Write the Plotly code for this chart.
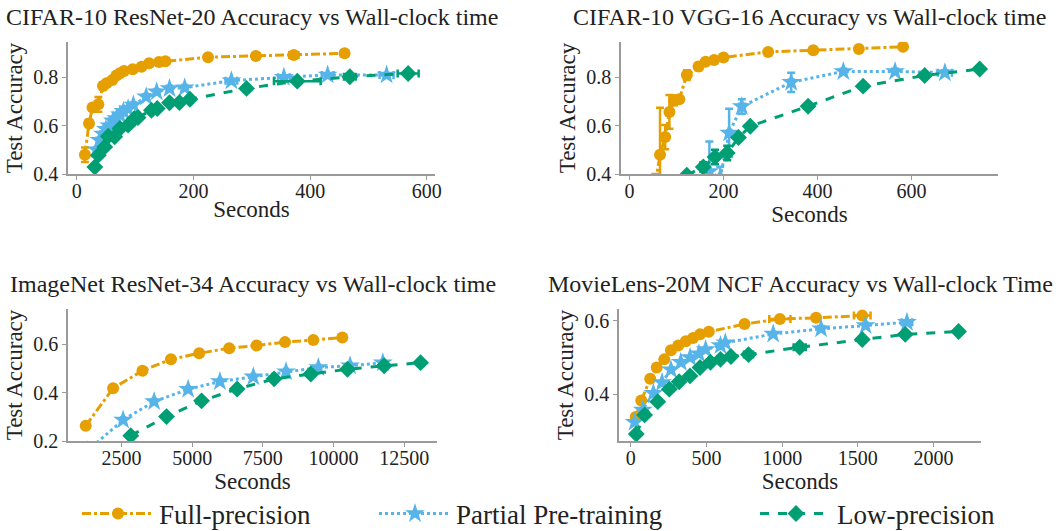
import plotly.graph_objects as go

# ---------------- data ----------------
# Panel 1: CIFAR-10 ResNet-20
r20_full_x = [14, 21, 27, 37, 45, 51, 61, 68, 74, 81, 96, 111, 124, 141, 152, 225, 307, 372, 459]
r20_full_y = [0.480, 0.609, 0.675, 0.688, 0.764, 0.775, 0.789, 0.807, 0.817, 0.826, 0.833, 0.844, 0.858, 0.863, 0.866, 0.883, 0.888, 0.892, 0.899]
r20_full_ey = [0.03, 0.015, 0.01, 0.03, 0.015, 0.01, 0.01, 0.01, 0.005, 0.005, 0.005, 0.005, 0.005, 0.005, 0.005, 0.003, 0.003, 0.003, 0.003]
r20_full_ex = [2, 3, 2, 3, 2, 2, 2, 2, 2, 2, 2, 2, 2, 2, 2, 3, 6, 8, 6]

r20_part_x = [34, 39, 45, 50, 56, 62, 68, 74, 80, 88, 97, 119, 137, 159, 185, 265, 355, 430, 531]
r20_part_y = [0.500, 0.540, 0.565, 0.585, 0.600, 0.620, 0.630, 0.645, 0.660, 0.670, 0.685, 0.720, 0.740, 0.754, 0.757, 0.786, 0.800, 0.810, 0.810]
r20_part_ey = [0.01, 0.01, 0.01, 0.01, 0.01, 0.01, 0.01, 0.01, 0.01, 0.01, 0.01, 0.01, 0.01, 0.01, 0.005, 0.005, 0.005, 0.005, 0.005]
r20_part_ex = [2, 2, 2, 2, 2, 2, 2, 2, 2, 2, 3, 3, 3, 4, 4, 10, 10, 10, 12]

r20_low_x = [31, 37, 48, 54, 65, 74, 88, 99, 105, 128, 138, 159, 176, 194, 291, 378, 468, 568]
r20_low_y = [0.429, 0.478, 0.512, 0.556, 0.554, 0.588, 0.602, 0.630, 0.634, 0.664, 0.671, 0.695, 0.696, 0.709, 0.754, 0.784, 0.802, 0.816]
r20_low_ey = [0.01, 0.01, 0.01, 0.01, 0.01, 0.01, 0.008, 0.008, 0.008, 0.006, 0.006, 0.006, 0.006, 0.006, 0.005, 0.005, 0.005, 0.005]
r20_low_ex = [2, 2, 2, 2, 2, 2, 3, 3, 3, 3, 3, 3, 3, 4, 5, 40, 10, 18]

# Panel 2: CIFAR-10 VGG-16
vgg_full_x = [55, 65, 76, 85, 95, 106, 122, 147, 162, 180, 200, 295, 391, 488, 582]
vgg_full_y = [0.360, 0.480, 0.553, 0.657, 0.705, 0.710, 0.810, 0.845, 0.865, 0.872, 0.883, 0.906, 0.913, 0.918, 0.927]
vgg_full_ey = [0.04, 0.195, 0.05, 0.07, 0.02, 0.01, 0.02, 0.015, 0.01, 0.01, 0.005, 0.005, 0.005, 0.005, 0.005]
vgg_full_ex = [13, 2, 3, 3, 3, 3, 4, 4, 4, 4, 4, 4, 4, 4, 4]

vgg_part_x = [170, 193, 212, 239, 344, 455, 565, 671]
vgg_part_y = [0.410, 0.385, 0.570, 0.680, 0.780, 0.825, 0.825, 0.820]
vgg_part_ey = [0.125, 0.045, 0.10, 0.03, 0.04, 0.01, 0.01, 0.01]
vgg_part_ex = [3, 3, 4, 6, 5, 5, 5, 15]

vgg_low_x = [122, 157, 182, 208, 232, 257, 380, 497, 628, 745]
vgg_low_y = [0.395, 0.429, 0.470, 0.487, 0.551, 0.598, 0.681, 0.764, 0.808, 0.835]
vgg_low_ey = [0.005, 0.02, 0.03, 0.03, 0.01, 0.01, 0.005, 0.005, 0.005, 0.005]
vgg_low_ex = [3, 4, 4, 4, 4, 4, 4, 4, 4, 4]

# Panel 3: ImageNet ResNet-34
in_full_x = [1236, 2203, 3243, 4250, 5248, 6310, 7280, 8283, 9285, 10310]
in_full_y = [0.263, 0.418, 0.491, 0.538, 0.563, 0.584, 0.595, 0.609, 0.618, 0.628]
in_full_ex = [80, 80, 60, 60, 60, 60, 60, 60, 60, 60]

in_part_x = [1300, 2557, 3654, 4858, 5981, 7162, 8319, 9462, 10584, 11742]
in_part_y = [0.160, 0.287, 0.363, 0.414, 0.446, 0.466, 0.487, 0.504, 0.511, 0.524]
in_part_ex = [60, 60, 60, 60, 60, 60, 60, 60, 60, 60]

in_low_x = [2829, 4093, 5332, 6590, 7897, 9196, 10492, 11788, 13077]
in_low_y = [0.222, 0.301, 0.366, 0.415, 0.457, 0.477, 0.497, 0.511, 0.524]
in_low_ex = [60, 60, 60, 60, 60, 60, 60, 60, 60]

# Panel 4: MovieLens-20M NCF
ml_full_x = [33, 70, 129, 172, 222, 266, 314, 364, 412, 458, 516, 752, 985, 1224, 1529]
ml_full_y = [0.338, 0.383, 0.442, 0.473, 0.495, 0.520, 0.533, 0.544, 0.553, 0.563, 0.570, 0.591, 0.605, 0.608, 0.614]
ml_full_ex = [5, 5, 5, 5, 5, 5, 5, 5, 5, 5, 5, 8, 70, 10, 55]

ml_part_x = [26, 80, 150, 207, 266, 331, 392, 451, 495, 593, 625, 941, 1257, 1551, 1824]
ml_part_y = [0.324, 0.357, 0.403, 0.432, 0.467, 0.487, 0.500, 0.510, 0.522, 0.533, 0.540, 0.564, 0.578, 0.587, 0.596]
ml_part_ex = [5, 5, 5, 5, 5, 5, 5, 5, 5, 5, 5, 8, 20, 15, 35]

ml_low_x = [37, 92, 179, 255, 320, 392, 458, 527, 593, 662, 778, 1116, 1529, 1813, 2165]
ml_low_y = [0.292, 0.344, 0.380, 0.414, 0.434, 0.450, 0.473, 0.487, 0.495, 0.503, 0.508, 0.528, 0.549, 0.563, 0.571]
ml_low_ex = [5, 5, 5, 5, 5, 5, 5, 5, 5, 5, 30, 40, 10, 15, 10]

titles = ["CIFAR-10 ResNet-20 Accuracy vs Wall-clock time",
          "CIFAR-10 VGG-16 Accuracy vs Wall-clock time",
          "ImageNet ResNet-34 Accuracy vs Wall-clock time",
          "MovieLens-20M NCF Accuracy vs Wall-clock Time"]
series_names = ["Full-precision", "Partial Pre-training", "Low-precision"]

# ---------------- style ----------------
FONT = "Liberation Serif"
C_FULL, C_PART, C_LOW = "#E69F00", "#56B4E9", "#009E73"
styles = [
    dict(color=C_FULL, dash="dashdot", symbol="circle", size=12),
    dict(color=C_PART, dash="dot", symbol="star", size=15),
    dict(color=C_LOW, dash="dash", symbol="diamond", size=13),
]
legend_ids = ["legend", "legend2", "legend3"]

panels = [
    [(r20_full_x, r20_full_y, r20_full_ex, r20_full_ey),
     (r20_part_x, r20_part_y, r20_part_ex, r20_part_ey),
     (r20_low_x, r20_low_y, r20_low_ex, r20_low_ey)],
    [(vgg_full_x, vgg_full_y, vgg_full_ex, vgg_full_ey),
     (vgg_part_x, vgg_part_y, vgg_part_ex, vgg_part_ey),
     (vgg_low_x, vgg_low_y, vgg_low_ex, vgg_low_ey)],
    [(in_full_x, in_full_y, in_full_ex, None),
     (in_part_x, in_part_y, in_part_ex, None),
     (in_low_x, in_low_y, in_low_ex, None)],
    [(ml_full_x, ml_full_y, ml_full_ex, None),
     (ml_part_x, ml_part_y, ml_part_ex, None),
     (ml_low_x, ml_low_y, ml_low_ex, None)],
]

# the page's body margin is removed below, so the figure fills the window
W, H = 1058, 531
# axes boxes in page pixels: (left, right, top, bottom)
boxes = [(68, 435, 42, 174), (621, 998, 42, 174), (68, 437, 309, 441), (619, 981, 309, 441)]
xranges = [[-15, 614], [-18, 784], [609, 13658], [-77, 2313]]
yranges = [[0.4, 0.946], [0.4, 0.947], [0.2, 0.746], [0.273, 0.632]]
xticks = [[0, 200, 400, 600], [0, 200, 400, 600], [2500, 5000, 7500, 10000, 12500], [0, 500, 1000, 1500, 2000]]
yticks = [[0.4, 0.6, 0.8], [0.4, 0.6, 0.8], [0.2, 0.4, 0.6], [0.4, 0.6]]


def px(v):
    return v / W


def py(v):
    return 1 - v / H


fig = go.Figure()
for p, series in enumerate(panels):
    ax = "" if p == 0 else str(p + 1)
    for s, (xs, ys, ex, ey) in enumerate(series):
        st = styles[s]
        tr = go.Scatter(
            x=xs, y=ys, mode="lines+markers", name=series_names[s],
            legendgroup=series_names[s], showlegend=(p == 0), legend=legend_ids[s],
            xaxis="x" + ax, yaxis="y" + ax,
            line=dict(color=st["color"], dash=st["dash"], width=3),
            marker=dict(symbol=st["symbol"], size=st["size"], color=st["color"]),
            error_x=dict(type="data", array=ex, color=st["color"], thickness=2.5, width=4),
        )
        if ey is not None:
            tr.error_y = dict(type="data", array=ey, color=st["color"], thickness=2.5, width=4)
        fig.add_trace(tr)

axis_common = dict(showgrid=False, zeroline=False, showline=True, linecolor="#9a9a9a", linewidth=1.5,
                   ticks="outside", ticklen=4, tickwidth=1.2, tickcolor="#9a9a9a",
                   tickfont=dict(family=FONT, size=20, color="#222"))
annotations = []
for p in range(4):
    l, r, t, b = boxes[p]
    ax = "" if p == 0 else str(p + 1)
    fig.layout["xaxis" + ax] = dict(
        axis_common, domain=[px(l), px(r)], range=xranges[p], tickvals=xticks[p],
        tickformat="d", anchor="y" + ax, ticklabelstandoff=-6,
        title=dict(text="Seconds", font=dict(family=FONT, size=23, color="#222"), standoff=0))
    fig.layout["yaxis" + ax] = dict(
        axis_common, domain=[py(b), py(t)], range=yranges[p], tickvals=yticks[p],
        tickformat=".1f", anchor="x" + ax,
        title=dict(text="Test Accuracy", font=dict(family=FONT, size=23, color="#222"), standoff=4))
    annotations.append(dict(text=titles[p], x=px((l + r) / 2), y=py(t - 25),
                            xref="paper", yref="paper", xanchor="center", yanchor="middle",
                            showarrow=False, font=dict(family=FONT, size=24, color="#222")))

leg_common = dict(orientation="h", xanchor="left", y=py(514), yanchor="middle",
                  font=dict(family=FONT, size=27, color="#222"), itemwidth=72,
                  bgcolor="rgba(0,0,0,0)")
fig.update_layout(
    width=W, height=H, margin=dict(l=0, r=0, t=0, b=0, autoexpand=False),
    paper_bgcolor="white", plot_bgcolor="white",
    annotations=annotations,
    legend=dict(leg_common, x=px(77)),
    legend2=dict(leg_common, x=px(374)),
    legend3=dict(leg_common, x=px(755)),
    font=dict(family=FONT),
)
fig.write_html("out.html", config={"displayModeBar": False},
               post_script="document.body.style.margin='0';document.body.style.overflow='hidden';")
